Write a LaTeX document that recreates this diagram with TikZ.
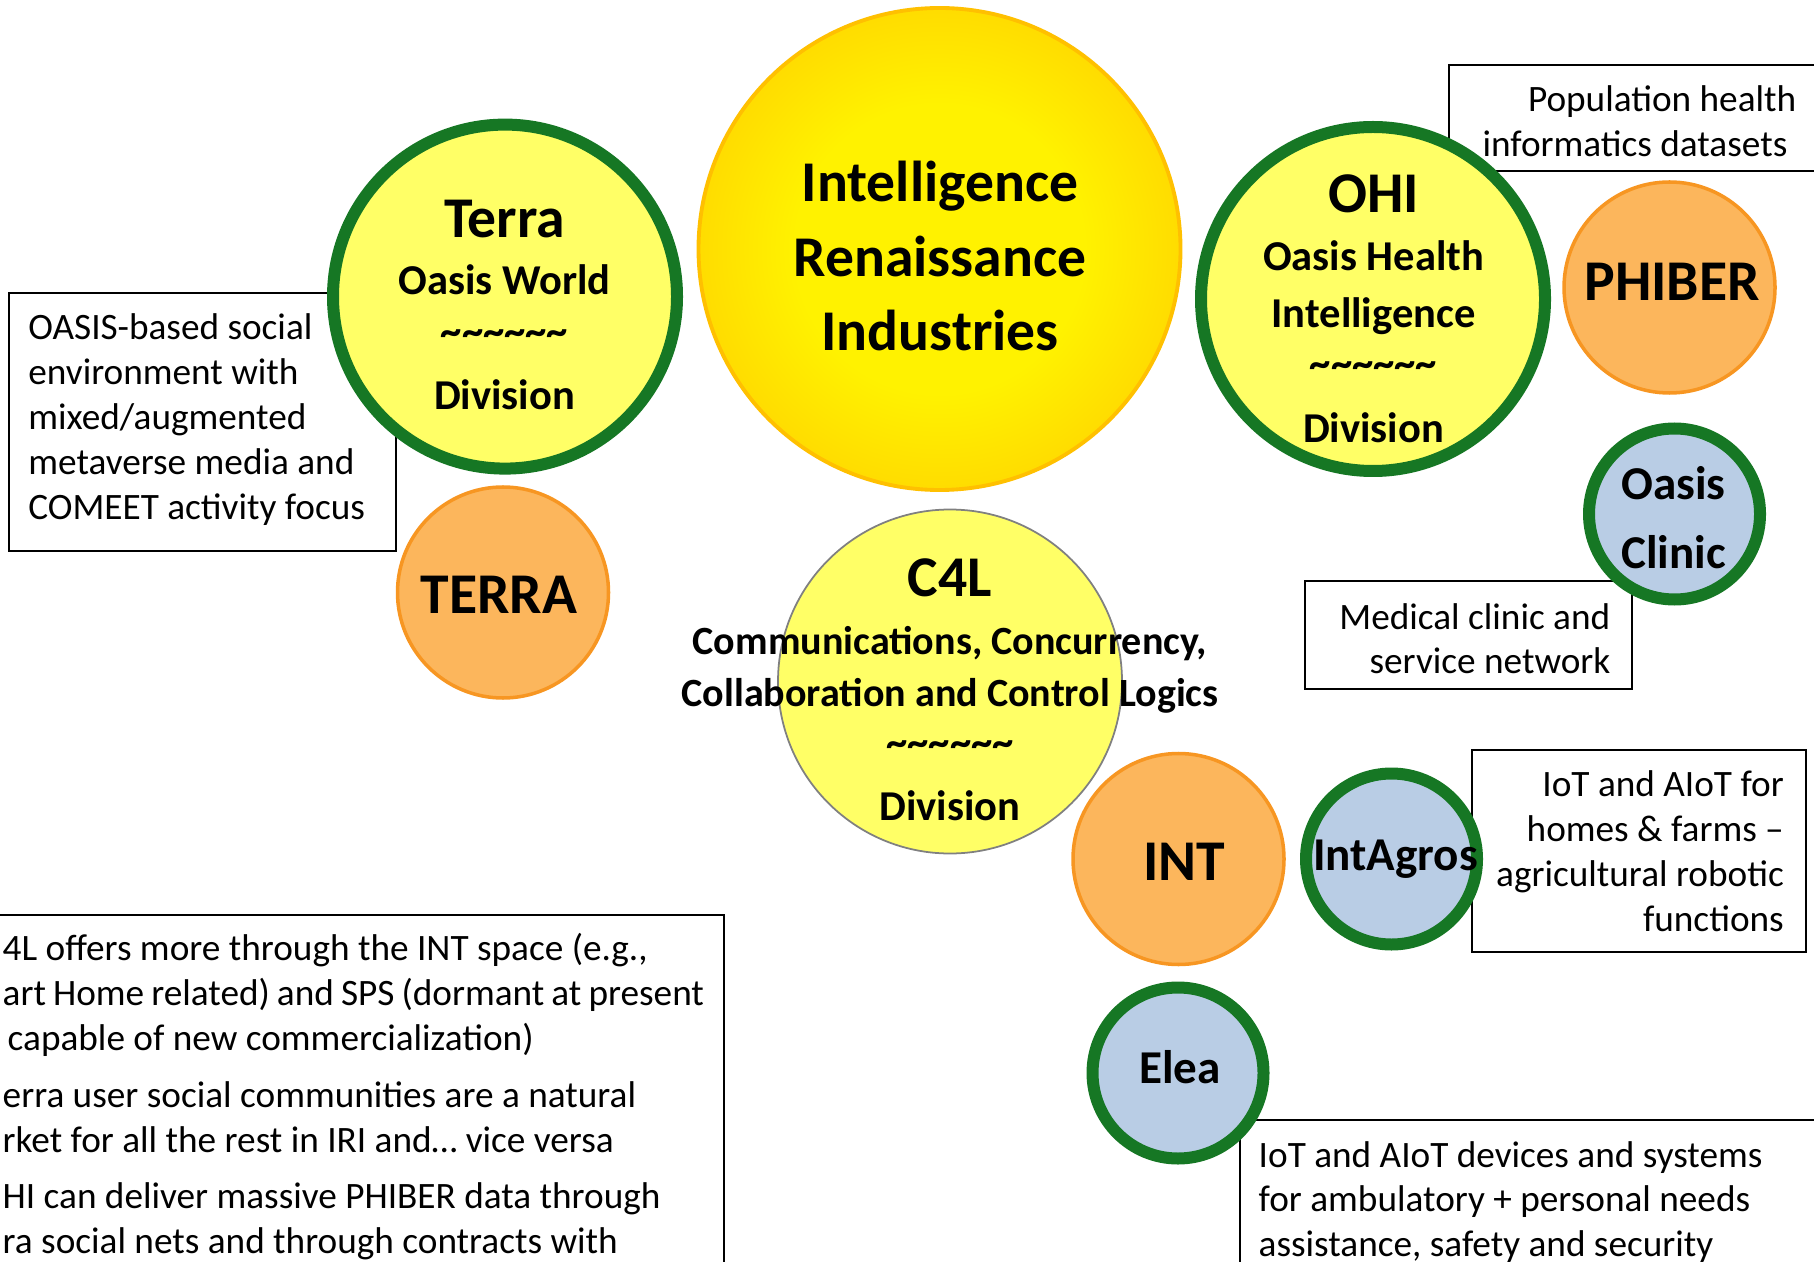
\documentclass[tikz,border=0pt]{standalone}
\usepackage{fontspec}
\setmainfont{Carlito}
\definecolor{divyellow}{RGB}{255,255,102}
\definecolor{divgreen}{RGB}{22,119,36}
\definecolor{ventureorange}{RGB}{252,182,92}
\definecolor{ventureedge}{RGB}{247,150,34}
\definecolor{serviceblue}{RGB}{185,205,229}
\definecolor{c4lgray}{RGB}{128,128,128}
\definecolor{irigold}{RGB}{255,192,0}
\definecolor{iriyellow}{RGB}{255,242,0}
\pgfdeclareradialshading{irishade}{\pgfpoint{0bp}{0bp}}{%
  color(0bp)=(iriyellow); color(15bp)=(iriyellow); color(38bp)=(irigold); color(50bp)=(irigold)}
\newcommand{\wavyline}{\raisebox{2pt}{\textasciitilde\textasciitilde\textasciitilde\textasciitilde\textasciitilde\textasciitilde}}
\newcommand{\titlesize}{\fontsize{16.4}{16.4}\selectfont}
\newcommand{\longsize}{\fontsize{11.4}{16.3}\selectfont}

\begin{document}
\begin{tikzpicture}[
    division/.style={circle, draw=divgreen, line width=0.12cm, fill=divyellow,
      minimum size=3.44cm, inner sep=0pt},
    venture/.style={circle, draw=ventureedge, line width=1pt, fill=ventureorange,
      minimum size=2.11cm, inner sep=0pt},
    service/.style={circle, draw=divgreen, line width=0.12cm, fill=serviceblue,
      minimum size=1.71cm, inner sep=0pt},
    notebox/.style={rectangle, draw=black, line width=0.6pt, inner sep=0pt, anchor=north west},
    notetext/.style={inner sep=0pt, font=\fontsize{10.6}{12.75}\selectfont},
    titletext/.style={inner sep=0pt, font=\fontsize{16.4}{21.3}\selectfont\bfseries},
    divtext/.style={inner sep=0pt, anchor=north, align=center,
      font=\fontsize{12.1}{16.3}\selectfont\bfseries},
    servicetext/.style={inner sep=0pt, font=\fontsize{13.4}{19.6}\selectfont\bfseries}
  ]
  \useasboundingbox (0,0) rectangle (18.14,12.61);

  % text boxes
  \node[notebox, minimum width=3.92cm, minimum height=1.064cm] (PopBox) at (14.48,11.974) {};
  \node[notebox, minimum width=3.87cm, minimum height=2.58cm] (WorldBox) at (0.08,9.69) {};
  \node[notebox, minimum width=3.27cm, minimum height=1.075cm] (ClinicBox) at (13.04,6.81) {};
  \node[notebox, minimum width=3.34cm, minimum height=2.02cm] (AgroBox) at (14.71,5.12) {};
  \node[notebox, minimum width=6.20cm, minimum height=1.80cm] (EleaBox) at (12.39,1.42) {};
  \node[notebox, minimum width=7.43cm, minimum height=3.80cm] (SynergyBox) at (-0.20,3.47) {};

  % circles
  \node[circle, shade, shading=irishade, draw=irigold, line width=1.1pt,
    minimum size=4.82cm, inner sep=0pt] (IRI) at (9.395,10.12) {};
  \node[division] (Terra) at (5.05,9.644) {};
  \node[division] (OHI) at (13.73,9.62) {};
  \node[division, draw=c4lgray, line width=0.5pt] (C4L) at (9.50,5.795) {};
  \node[venture] (PHIBER) at (16.695,9.735) {};
  \node[venture] (TERRA) at (5.03,6.685) {};
  \node[venture] (INT) at (11.785,4.02) {};
  \node[service] (OasisClinic) at (16.745,7.47) {};
  \node[service] (IntAgros) at (13.915,4.02) {};
  \node[service] (Elea) at (11.78,1.88) {};

  % circle texts
  \node[titletext, anchor=north, align=center] (IRItext) at (9.40,11.009)
    {Intelligence\\Renaissance\\Industries};
  \node[divtext] (Terratext) at (5.045,10.616)
    {{\titlesize Terra}\\Oasis World\\\wavyline\\Division};
  \node[divtext] (OHItext) at (13.735,10.866)
    {{\titlesize OHI}\\Oasis Health\\Intelligence\\\wavyline\\Division};
  \node[divtext] (C4Ltext) at (9.50,7.026)
    {{\titlesize C4L}\\{\longsize Communications, Concurrency,}\\[-1.5pt]
     {\longsize Collaboration and Control Logics}\\\wavyline\\Division};
  \node[titletext, anchor=base] (PHIBERtext) at (16.72,9.604) {PHIBER};
  \node[titletext, anchor=base] (TERRAtext) at (4.987,6.477) {TERRA};
  \node[titletext, anchor=base] (INTtext) at (11.84,3.81) {INT};
  \node[servicetext, anchor=north, align=center] (OasisClinictext) at (16.735,7.948) {Oasis\\Clinic};
  \node[servicetext, anchor=base] (IntAgrostext) at (13.955,3.904) {IntAgros};
  \node[servicetext, anchor=base] (Eleatext) at (11.80,1.78) {Elea};

  % box texts
  \node[notetext, anchor=north east, align=right] (PopText) at (17.97,11.756)
    {Population health\\informatics datasets\hspace*{0.09cm}};
  \node[notetext, anchor=north west, align=left] (WorldText) at (0.277,9.477)
    {OASIS-based social\\environment with\\mixed/augmented\\metaverse media and\\COMEET activity focus};
  \node[notetext, anchor=north east, align=right] (ClinicText) at (16.11,6.584)
    {Medical clinic and\\service network};
  \node[notetext, anchor=north east, align=right] (AgroText) at (17.845,4.907)
    {IoT and AIoT for\\homes \& farms –\\agricultural robotic\\functions};
  \node[notetext, anchor=north west, align=left] (EleaText) at (12.58,1.204)
    {IoT and AIoT devices and systems\\for ambulatory + personal needs\\assistance, safety and security};
  \node[notetext, anchor=north west, align=left] (SynergyText) at (0.02,3.28)
    {4L offers more through the INT space (e.g.,\\
     {\spaceskip=0.19em\relax art Home related) and SPS (dormant at present}\\
     \hspace*{0.05cm}capable of new commercialization)\\[3.4pt]
     erra user social communities are a natural\\rket for all the rest in IRI and… vice versa\\[3.4pt]
     HI can deliver massive PHIBER data through\\ra social nets and through contracts with};
\end{tikzpicture}
\end{document}
